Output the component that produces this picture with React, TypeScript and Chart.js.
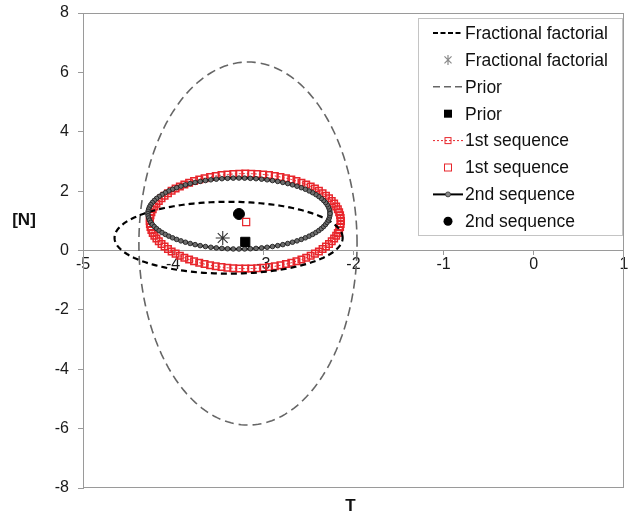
import { useEffect, useRef } from "react";
import { Chart, registerables } from "chart.js";

Chart.register(...registerables);

// Confidence ellipses in the (T, [N]) plane: centre and semi-axes for each design
const ellipseLabels = ["Fractional factorial", "Prior", "1st sequence", "2nd sequence"];
const ellipseCenterT = [-3.385, -3.17, -3.2, -3.27];
const ellipseCenterN = [0.43, 0.235, 0.99, 1.245];
const ellipseRadiusT = [1.265, 1.21, 1.06, 1.01];
const ellipseRadiusN = [1.21, 6.115, 1.6, 1.195];
const ellipseSamples = [200, 200, 100, 100];

// Point estimates for each design
const estimateT = [-3.45, -3.2, -3.19, -3.27];
const estimateN = [0.42, 0.29, 0.96, 1.23];

// Axis ranges
const tRange = [-5, 1];
const nRange = [-8, 8];

const FONT = '"Liberation Sans", Arial, Helvetica, sans-serif';
const RED = "#e8262c";

function ellipsePoints(i: number) {
  const n = ellipseSamples[i];
  const pts: { x: number; y: number }[] = [];
  for (let k = 0; k <= n; k++) {
    const a = (2 * Math.PI * k) / n;
    pts.push({
      x: ellipseCenterT[i] + ellipseRadiusT[i] * Math.cos(a),
      y: ellipseCenterN[i] + ellipseRadiusN[i] * Math.sin(a),
    });
  }
  return pts;
}

function estimatePoint(i: number) {
  return [{ x: estimateT[i], y: estimateN[i] }];
}

function drawStar(ctx: CanvasRenderingContext2D, x: number, y: number, r: number) {
  ctx.beginPath();
  ctx.moveTo(x, y - r);
  ctx.lineTo(x, y + r);
  const d = r * Math.SQRT1_2;
  ctx.moveTo(x - d, y - d);
  ctx.lineTo(x + d, y + d);
  ctx.moveTo(x + d, y - d);
  ctx.lineTo(x - d, y + d);
  ctx.stroke();
}

function dropScalePadding(s: any) {
  s.paddingTop = 0;
  s.paddingBottom = 0;
  s.paddingLeft = 0;
  s.paddingRight = 0;
}

const framePlugin = {
  id: "frame",
  afterDatasetsDraw(chart: any) {
    const { ctx, chartArea } = chart;
    ctx.save();
    ctx.strokeStyle = "#9a9a9a";
    ctx.lineWidth = 1;
    ctx.strokeRect(
      Math.round(chartArea.left) + 0.5,
      Math.round(chartArea.top) + 0.5,
      Math.round(chartArea.right - chartArea.left) - 1,
      Math.round(chartArea.bottom - chartArea.top) - 1
    );
    ctx.restore();
  },
};

const titlesPlugin = {
  id: "axisTitles",
  afterDraw(chart: any) {
    const { ctx, chartArea } = chart;
    ctx.save();
    ctx.fillStyle = "#111";
    ctx.font = `bold 17px ${FONT}`;
    ctx.textAlign = "center";
    ctx.textBaseline = "middle";
    ctx.fillText("T", (chartArea.left + chartArea.right) / 2 - 3, 506);
    ctx.fillText("[N]", 24, 220);
    ctx.restore();
  },
};

const legendPlugin = {
  id: "designLegend",
  afterDraw(chart: any) {
    const ctx: CanvasRenderingContext2D = chart.ctx;
    const boxX = 418, boxY = 18, boxW = 204, boxH = 217;
    const lineX0 = 433, lineX1 = 463, markX = 448, textX = 465;
    const rowY = (i: number) => 33 + i * 26.9;
    ctx.save();
    ctx.fillStyle = "#fff";
    ctx.fillRect(boxX, boxY, boxW, boxH);
    ctx.strokeStyle = "#c4c4c4";
    ctx.lineWidth = 1;
    ctx.strokeRect(boxX + 0.5, boxY + 0.5, boxW, boxH);

    const entries = [
      "Fractional factorial", "Fractional factorial",
      "Prior", "Prior",
      "1st sequence", "1st sequence",
      "2nd sequence", "2nd sequence",
    ];

    // row 0: dashed black line
    let y = rowY(0);
    ctx.strokeStyle = "#000";
    ctx.lineWidth = 2;
    ctx.setLineDash([5, 2.5]);
    ctx.beginPath(); ctx.moveTo(lineX0, y); ctx.lineTo(lineX1, y); ctx.stroke();
    ctx.setLineDash([]);

    // row 1: star
    y = rowY(1);
    ctx.strokeStyle = "#8a8a8a";
    ctx.lineWidth = 1.2;
    drawStar(ctx, markX, y, 5);

    // row 2: grey dashed line
    y = rowY(2);
    ctx.strokeStyle = "#666";
    ctx.lineWidth = 1.6;
    ctx.setLineDash([7, 4]);
    ctx.beginPath(); ctx.moveTo(lineX0, y); ctx.lineTo(lineX1, y); ctx.stroke();
    ctx.setLineDash([]);

    // row 3: black square
    y = rowY(3);
    ctx.fillStyle = "#000";
    ctx.fillRect(markX - 4, y - 4, 8, 8);

    // row 4: red dotted line with square
    y = rowY(4);
    ctx.strokeStyle = RED;
    ctx.lineWidth = 1;
    ctx.setLineDash([2, 2]);
    ctx.beginPath(); ctx.moveTo(lineX0, y); ctx.lineTo(lineX1, y); ctx.stroke();
    ctx.setLineDash([]);
    ctx.strokeRect(markX - 3, y - 3, 6, 6);

    // row 5: open red square
    y = rowY(5);
    ctx.fillStyle = "#fff";
    ctx.fillRect(markX - 3.5, y - 3.5, 7, 7);
    ctx.strokeStyle = RED;
    ctx.strokeRect(markX - 3.5, y - 3.5, 7, 7);

    // row 6: solid black line with small circle
    y = rowY(6);
    ctx.strokeStyle = "#000";
    ctx.lineWidth = 2;
    ctx.beginPath(); ctx.moveTo(lineX0, y); ctx.lineTo(lineX1, y); ctx.stroke();
    ctx.fillStyle = "#888";
    ctx.strokeStyle = "#333";
    ctx.lineWidth = 0.8;
    ctx.beginPath(); ctx.arc(markX, y, 2.5, 0, Math.PI * 2); ctx.fill(); ctx.stroke();

    // row 7: filled black circle
    y = rowY(7);
    ctx.fillStyle = "#000";
    ctx.beginPath(); ctx.arc(markX, y, 4.5, 0, Math.PI * 2); ctx.fill();

    ctx.fillStyle = "#111";
    ctx.font = `17.5px ${FONT}`;
    ctx.textAlign = "left";
    ctx.textBaseline = "middle";
    entries.forEach((t, i) => ctx.fillText(t, textX, rowY(i) + 1));
    ctx.restore();
  },
};

export default function App() {
  const canvasRef = useRef<HTMLCanvasElement | null>(null);

  useEffect(() => {
    document.body.style.margin = "0";
    const canvas = canvasRef.current;
    if (!canvas) return;

    const datasets: any[] = [
      {
        label: ellipseLabels[0],
        data: ellipsePoints(0),
        showLine: true,
        borderColor: "#000",
        borderWidth: 2.2,
        borderDash: [6, 4],
        pointRadius: 0,
        order: 3,
      },
      {
        label: ellipseLabels[0],
        data: estimatePoint(0),
        pointStyle: "star",
        pointRadius: 7,
        borderColor: "#333",
        backgroundColor: "#333",
        borderWidth: 1.1,
        order: 0,
      },
      {
        label: ellipseLabels[1],
        data: ellipsePoints(1),
        showLine: true,
        borderColor: "#666",
        borderWidth: 1.6,
        borderDash: [9, 5],
        pointRadius: 0,
        order: 5,
      },
      {
        label: ellipseLabels[1],
        data: estimatePoint(1),
        pointStyle: "rect",
        pointRadius: 6.5,
        borderColor: "#000",
        backgroundColor: "#000",
        borderWidth: 1,
        order: 0,
      },
      {
        label: ellipseLabels[2],
        data: ellipsePoints(2),
        showLine: true,
        borderColor: RED,
        borderWidth: 1,
        borderDash: [2, 2],
        pointStyle: "rect",
        pointRadius: 4.6,
        pointBorderColor: RED,
        pointBackgroundColor: "rgba(255,255,255,0)",
        pointBorderWidth: 1.5,
        order: 4,
      },
      {
        label: ellipseLabels[2],
        data: estimatePoint(2),
        pointStyle: "rect",
        pointRadius: 5,
        borderColor: RED,
        backgroundColor: "#fff",
        borderWidth: 1.2,
        order: 0,
      },
      {
        label: ellipseLabels[3],
        data: ellipsePoints(3),
        showLine: true,
        borderColor: "#000",
        borderWidth: 2.2,
        pointStyle: "circle",
        pointRadius: 2.3,
        pointBackgroundColor: "#6e6e6e",
        pointBorderColor: "#222",
        pointBorderWidth: 0.9,
        order: 2,
      },
      {
        label: ellipseLabels[3],
        data: estimatePoint(3),
        pointStyle: "circle",
        pointRadius: 5.5,
        borderColor: "#000",
        backgroundColor: "#000",
        borderWidth: 1,
        order: 0,
      },
    ];

    const chart = new Chart(canvas, {
      type: "scatter",
      data: { datasets },
      options: {
        responsive: false,
        animation: false,
        events: [],
        layout: { padding: { left: 0, top: 13, right: 4, bottom: 32 } },
        plugins: {
          legend: { display: false },
          tooltip: { enabled: false },
          title: { display: false },
        },
        scales: {
          x: {
            type: "linear",
            min: tRange[0],
            max: tRange[1],
            position: { y: 0 } as any,
            afterFit: (s: any) => {
              s.height = 0;
              dropScalePadding(s);
            },
            ticks: {
              stepSize: 1,
              color: "#1a1a1a",
              padding: 0,
              font: { family: FONT, size: 16 },
            },
            grid: {
              drawOnChartArea: false,
              drawTicks: true,
              tickLength: 4,
              color: "#9a9a9a",
            },
            border: { display: true, color: "#9a9a9a" },
          },
          y: {
            type: "linear",
            min: nRange[0],
            max: nRange[1],
            position: "left",
            afterFit: (s: any) => {
              s.width = 83;
              dropScalePadding(s);
            },
            ticks: {
              stepSize: 2,
              color: "#1a1a1a",
              padding: 9,
              font: { family: FONT, size: 16 },
            },
            grid: {
              drawOnChartArea: false,
              drawTicks: true,
              tickLength: 5,
              color: "#9a9a9a",
            },
            border: { display: true, color: "#9a9a9a" },
          },
        },
      },
      plugins: [framePlugin, titlesPlugin, legendPlugin],
    });

    return () => chart.destroy();
  }, []);

  return (
    <div style={{ position: "absolute", left: 0, top: 0, width: 632, height: 520, background: "#fff" }}>
      <canvas ref={canvasRef} width={632} height={520} />
    </div>
  );
}
